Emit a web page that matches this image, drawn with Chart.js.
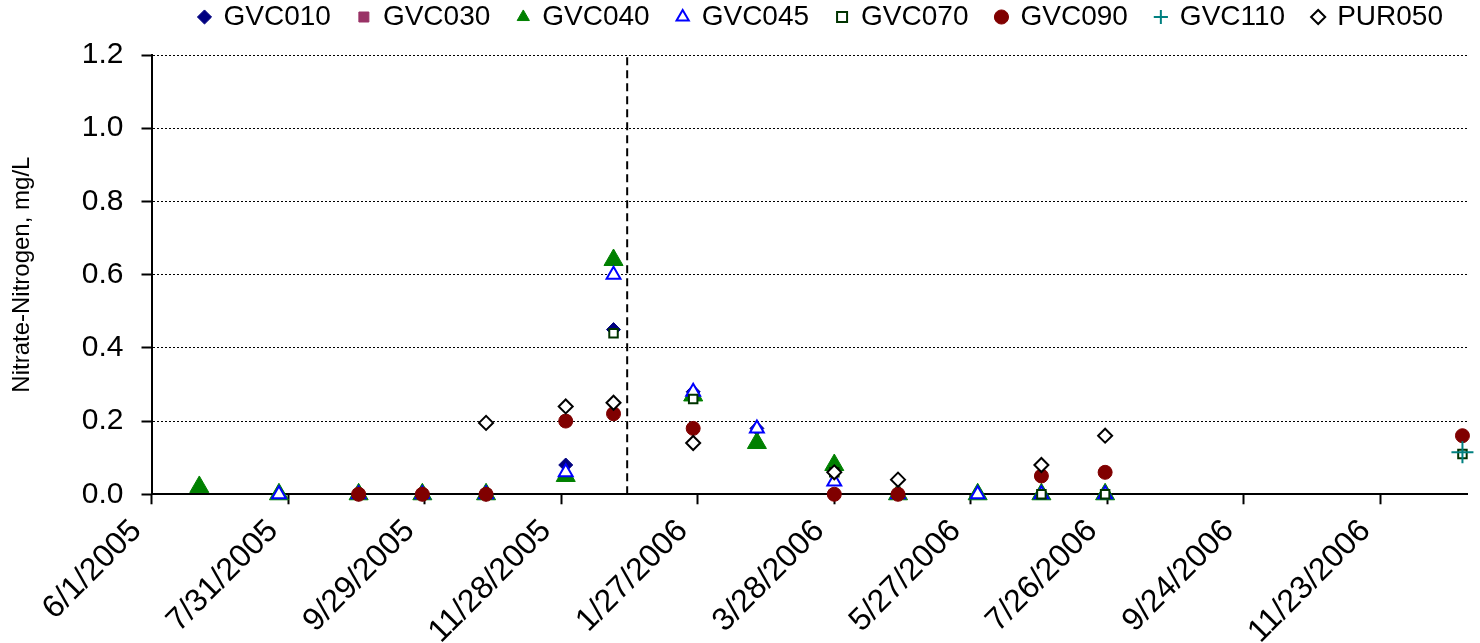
<!DOCTYPE html>
<html>
<head>
<meta charset="utf-8">
<title>Nitrate-Nitrogen</title>
<script src="https://cdn.jsdelivr.net/npm/chart.js@4.4.1/dist/chart.umd.min.js"></script>
<style>
  body { margin: 0; background: #fff; }
  #wrap { width: 1480px; height: 643px; }
</style>
</head>
<body>
<div id="wrap"><canvas id="nitrateChart" width="1480" height="643"></canvas></div>
<script>
// sampling dates (one column of markers each)
var sampleDates = ['6/22/2005', '7/27/2005', '8/31/2005', '9/28/2005', '10/26/2005', '11/30/2005',
    '12/21/2005', '1/25/2006', '2/22/2006', '3/28/2006', '4/25/2006', '5/30/2006',
    '6/27/2006', '7/25/2006', '12/29/2006'];

// nitrate-nitrogen, mg/L per station (null = not sampled)
var gvc010 = [null, null, 0, 0, 0, 0.08, 0.45, 0.28, 0.18, null, null, null, null, null, null];
var gvc030 = [null, null, 0, 0, 0, 0.2, null, null, null, null, null, null, null, null, null];
var gvc040 = [0.02, 0, 0, 0, 0, 0.05, 0.64, 0.27, 0.14, 0.08, 0, 0, 0, 0, null];
var gvc045 = [null, 0, 0, 0, 0, 0.06, 0.6, 0.28, 0.18, 0.035, 0, 0, 0, 0, null];
var gvc070 = [null, null, 0, 0, 0, 0.2, 0.44, 0.26, null, 0.06, null, null, 0, 0, 0.11];
var gvc090 = [null, null, 0, 0, 0, 0.2, 0.22, 0.18, null, 0, 0, null, 0.05, 0.06, 0.16];
var gvc110 = [null, null, null, null, null, null, null, null, null, null, null, null, null, null, 0.115];
var pur050 = [null, null, null, null, 0.195, 0.24, 0.25, 0.14, null, 0.06, 0.04, null, 0.08, 0.16, null];

// axis range and the dashed marker line
var axisStart = '6/1/2005';
var axisEnd = '12/31/2006';
var markerDate = '12/27/2005';
var dayStep = 60;
var yTicks = [0, 0.2, 0.4, 0.6, 0.8, 1.0, 1.2];

// helpers: dates -> day number since axisStart
function toUTC(s) {
    var p = s.split('/');
    return Date.UTC(+p[2], +p[0] - 1, +p[1]);
}
var t0 = toUTC(axisStart);
function dayNum(s) { return Math.round((toUTC(s) - t0) / 86400000); }
function dayLabel(n) {
    var d = new Date(t0 + n * 86400000);
    return (d.getUTCMonth() + 1) + '/' + d.getUTCDate() + '/' + d.getUTCFullYear();
}
function pts(vals) {
    var out = [];
    for (var i = 0; i < vals.length; i++) {
        if (vals[i] !== null) out.push({x: dayNum(sampleDates[i]), y: vals[i]});
    }
    return out;
}

var fontFam = '"Liberation Sans", Arial, sans-serif';

var series = [
    {label: 'GVC010', data: pts(gvc010), pointStyle: 'rectRot', pointRadius: 7, backgroundColor: '#000080', borderColor: '#000080', pointBorderWidth: 1},
    {label: 'GVC030', data: pts(gvc030), pointStyle: 'rect', pointRadius: 6, backgroundColor: '#993366', borderColor: '#993366', pointBorderWidth: 1},
    {label: 'GVC040', data: pts(gvc040), pointStyle: 'triangle', pointRadius: 11, backgroundColor: '#008000', borderColor: '#008000', pointBorderWidth: 1},
    {label: 'GVC045', data: pts(gvc045), pointStyle: 'triangle', pointRadius: 8, backgroundColor: '#ffffff', borderColor: '#0000ff', pointBorderWidth: 2},
    {label: 'GVC070', data: pts(gvc070), pointStyle: 'rect', pointRadius: 6, backgroundColor: '#ffffff', borderColor: '#003300', pointBorderWidth: 2},
    {label: 'GVC090', data: pts(gvc090), pointStyle: 'circle', pointRadius: 7, backgroundColor: '#800000', borderColor: '#800000', pointBorderWidth: 1},
    {label: 'GVC110', data: pts(gvc110), pointStyle: 'cross', pointRadius: 11, backgroundColor: '#008080', borderColor: '#008080', pointBorderWidth: 2},
    {label: 'PUR050', data: pts(pur050), pointStyle: 'rectRot', pointRadius: 7, backgroundColor: '#ffffff', borderColor: '#000000', pointBorderWidth: 2}
];

var datasets = series.map(function(s, i) {
    s.type = 'scatter';
    s.showLine = false;
    s.clip = false;
    s.order = 20 - i; // later series drawn on top, like the original
    return s;
});

datasets.push({
    type: 'line',
    label: 'marker',
    data: [{x: dayNum(markerDate), y: yTicks[0]}, {x: dayNum(markerDate), y: yTicks[yTicks.length - 1]}],
    borderColor: '#000000',
    borderWidth: 2,
    borderDash: [8, 5],
    pointRadius: 0,
    fill: false,
    order: 100
});

// legend sits high up; give the plot back the room it takes
var legendRoom = {
    id: 'legendRoom',
    beforeLayout: function(chart) {
        var lg = chart.legend;
        if (lg && !lg._roomPatched) {
            var fit = lg.fit;
            lg.fit = function() {
                fit.call(this);
                this.height += 14;
            };
            lg._roomPatched = true;
        }
    }
};

Chart.defaults.font.family = fontFam;
Chart.defaults.color = '#000000';

new Chart(document.getElementById('nitrateChart').getContext('2d'), {
    type: 'scatter',
    data: {datasets: datasets},
    plugins: [legendRoom],
    options: {
        responsive: false,
        animation: false,
        layout: {padding: {top: -25, right: 9, bottom: -16, left: 0}},
        plugins: {
            tooltip: {enabled: false},
            legend: {
                position: 'top',
                align: 'end',
                labels: {
                    usePointStyle: true,
                    boxWidth: 10,
                    boxHeight: 10,
                    padding: 28,
                    font: {size: 28, family: fontFam},
                    filter: function(item) { return item.text !== 'marker'; },
                    sort: function(a, b) { return a.datasetIndex - b.datasetIndex; }
                }
            }
        },
        scales: {
            x: {
                type: 'linear',
                min: 0,
                max: dayNum(axisEnd),
                border: {display: true, color: '#000000', width: 2},
                grid: {drawOnChartArea: false, drawTicks: true, tickLength: 10, tickWidth: 2, tickColor: '#000000'},
                ticks: {
                    stepSize: dayStep,
                    includeBounds: false,
                    minRotation: 45,
                    maxRotation: 45,
                    autoSkip: false,
                    padding: 8,
                    labelOffset: -15,
                    font: {size: 32, family: fontFam},
                    callback: function(v) { return dayLabel(v); }
                }
            },
            y: {
                min: yTicks[0],
                max: yTicks[yTicks.length - 1],
                afterBuildTicks: function(scale) {
                    scale.ticks = yTicks.map(function(v) { return {value: v}; });
                },
                border: {display: true, color: '#000000', width: 2, dash: [2, 2]},
                grid: {color: '#000000', lineWidth: 1, tickLength: 10, tickColor: '#000000', tickWidth: 2},
                ticks: {
                    padding: 18,
                    font: {size: 30, family: fontFam},
                    callback: function(v) { return v.toFixed(1); }
                },
                title: {
                    display: true,
                    text: 'Nitrate-Nitrogen, mg/L',
                    font: {size: 24, family: fontFam},
                    padding: {top: 8, bottom: 27}
                }
            }
        }
    }
});
</script>
</body>
</html>
